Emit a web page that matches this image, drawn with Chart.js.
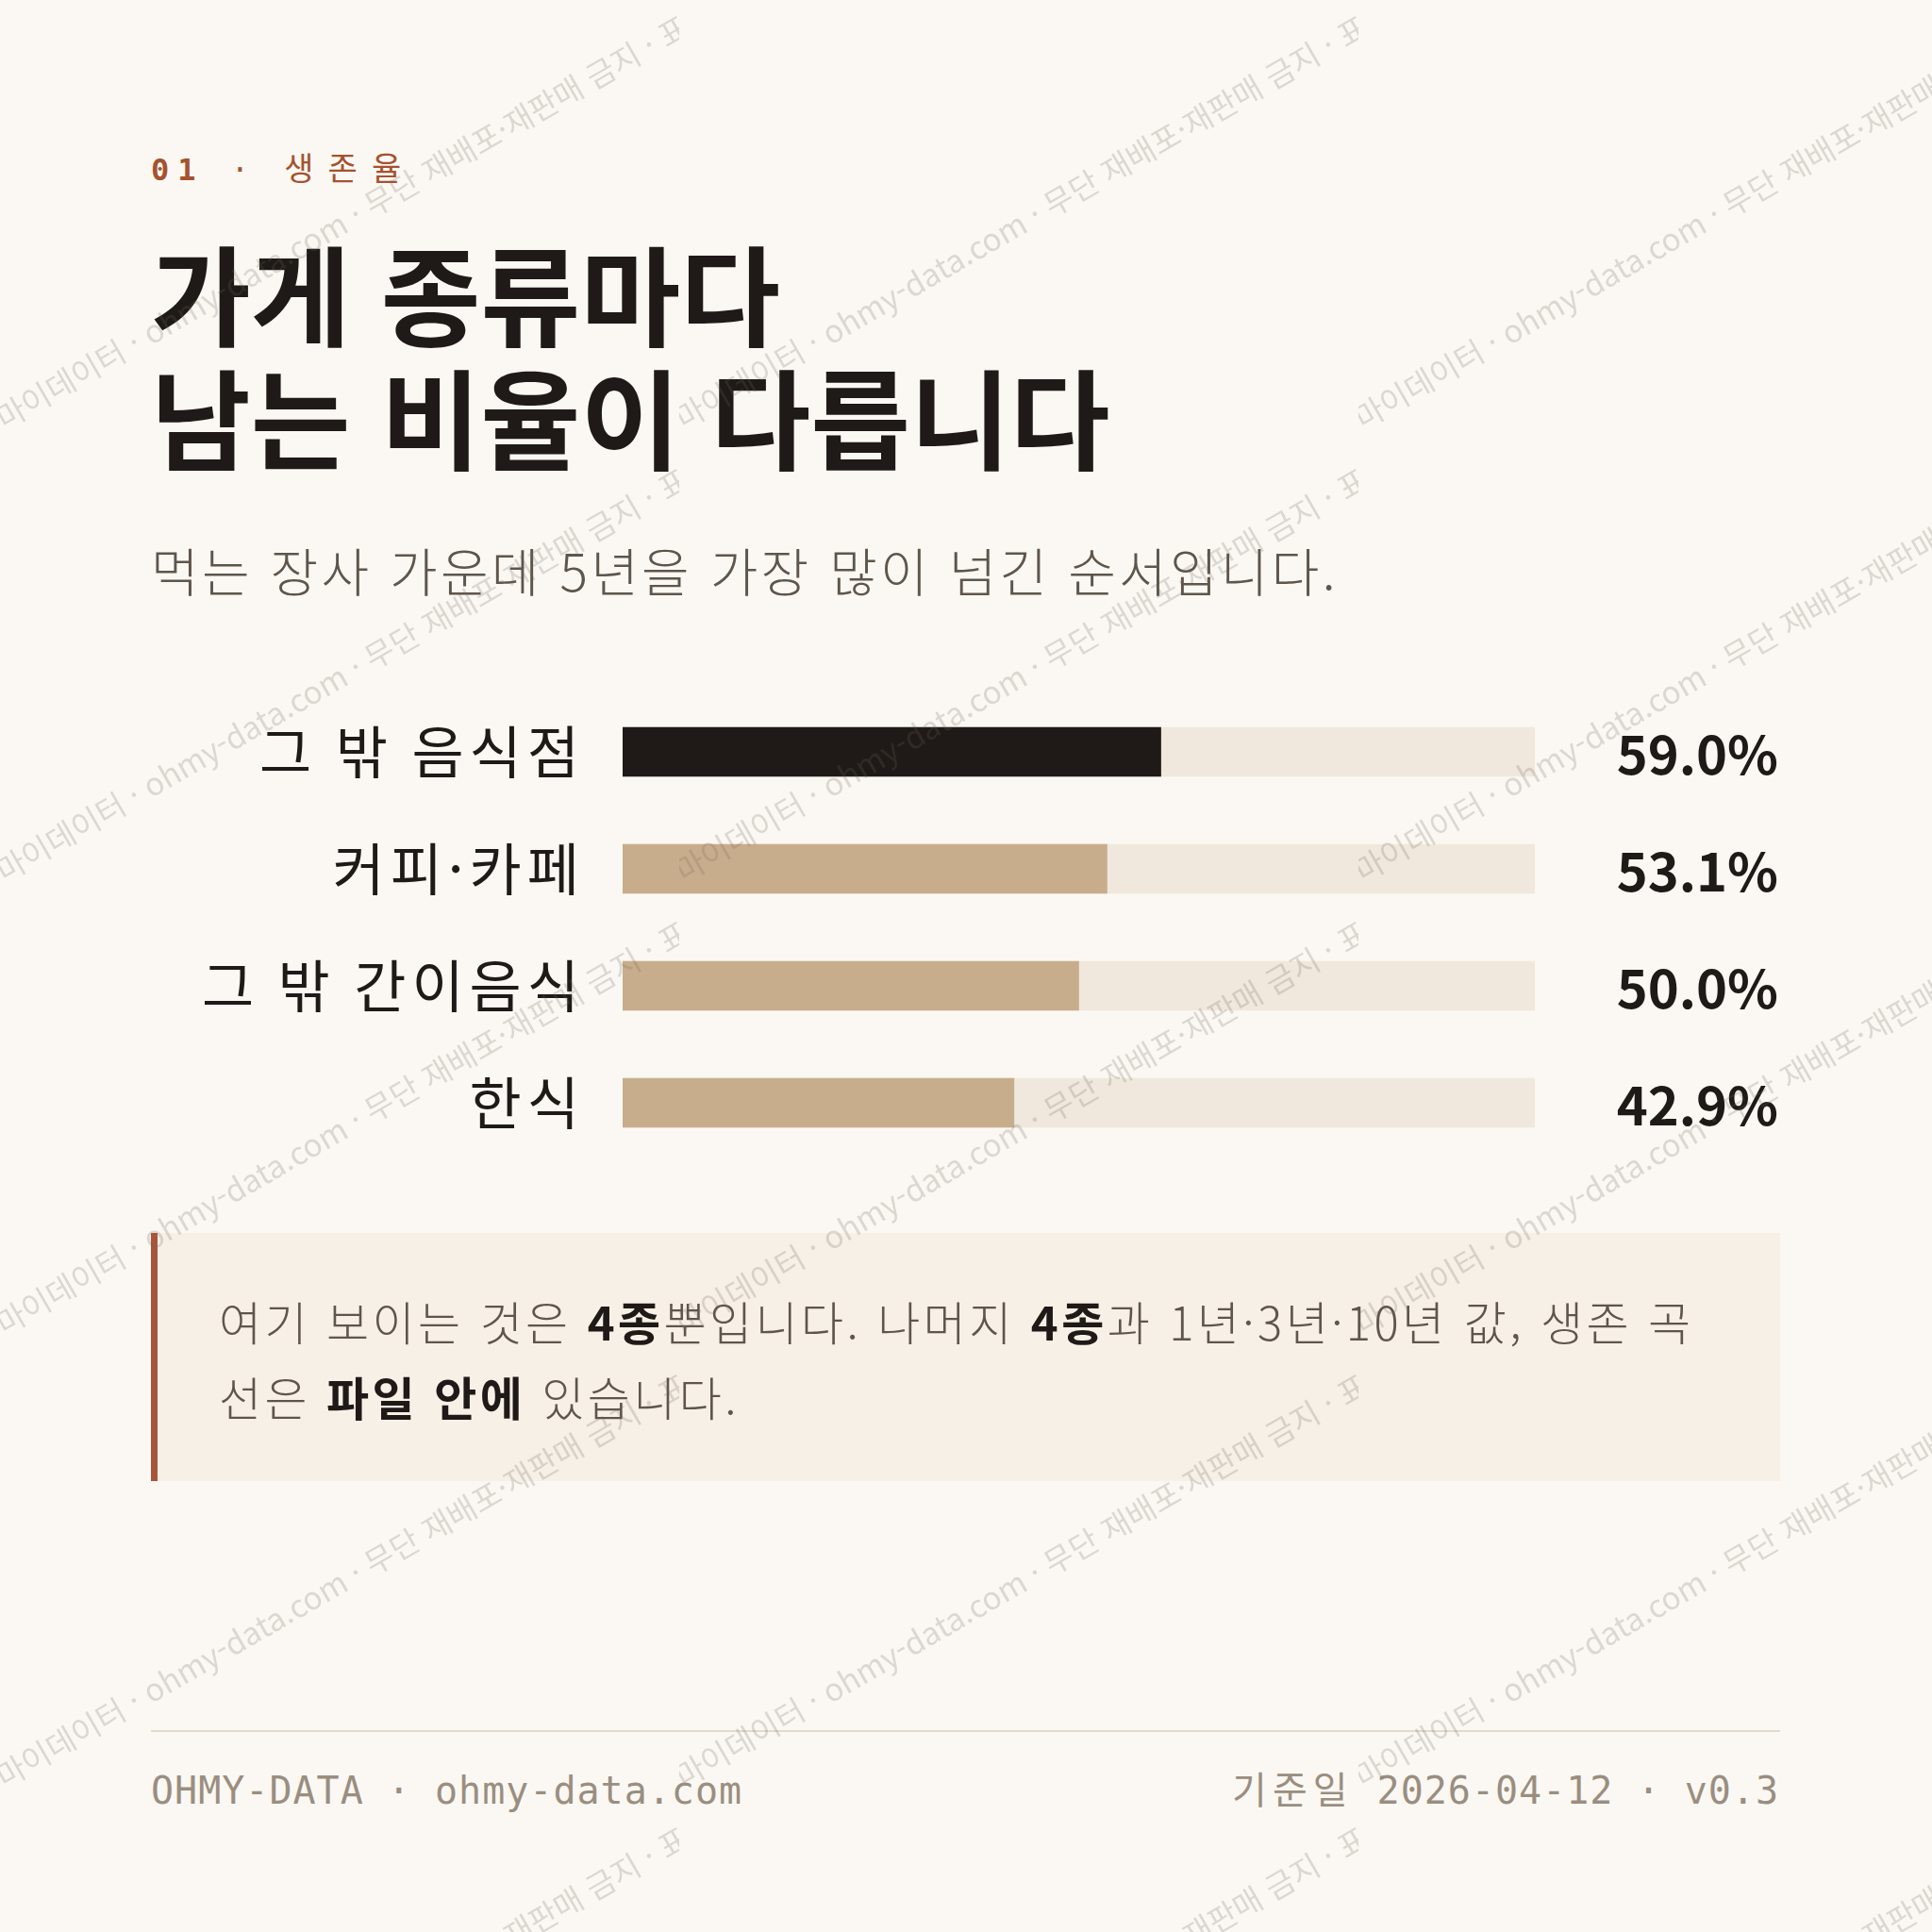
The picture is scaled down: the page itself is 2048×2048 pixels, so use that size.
<!DOCTYPE html>
<html lang="ko">
<head>
<meta charset="utf-8">
<title>생존율</title>
<script src="https://cdn.jsdelivr.net/npm/chart.js@4.4.1/dist/chart.umd.min.js"></script>
<style>
  html, body { margin: 0; padding: 0; }
  body {
    width: 2048px; height: 2048px; position: relative; overflow: hidden;
    background: #FBF8F3; color: #1F1A17;
    font-family: "Noto Sans CJK KR", "Noto Sans", sans-serif;
  }
  .kicker {
    position: absolute; left: 160px; top: 159px; line-height: 40px;
    font-family: "DejaVu Sans Mono", "Noto Sans CJK KR", monospace;
    font-size: 32px; letter-spacing: 9px; color: #A5522F; white-space: nowrap;
  }
  .kicker b { font-weight: 700; }
  .kicker .ko { letter-spacing: 15px; font-size: 34px; }
  h1 {
    position: absolute; left: 160px; top: 243px; margin: 0;
    font-size: 115px; line-height: 131px; font-weight: 700; letter-spacing: 0;
    white-space: nowrap;
  }
  .sub {
    position: absolute; left: 160px; top: 568px; line-height: 70px;
    font-size: 55px; font-weight: 300; letter-spacing: 3.3px; color: #5E554C; white-space: nowrap;
  }
  #wrap { position: absolute; left: 160px; top: 735px; width: 1727px; height: 496px; }
  .note {
    position: absolute; left: 160px; top: 1307px; width: 1727px; height: 263px;
    box-sizing: border-box; background: #F7F0E6; border-left: 7px solid #A9553A;
    padding: 53px 0 0 65px; font-size: 49px; line-height: 80px; font-weight: 300;
    letter-spacing: 3.4px; color: #5E554C; white-space: nowrap;
  }
  .note b { font-weight: 700; color: #1F1A17; }
  .rule { position: absolute; left: 160px; top: 1834px; width: 1727px; height: 2px; background: #E3DACD; }
  .foot {
    position: absolute; top: 1873px; line-height: 50px;
    font-family: "DejaVu Sans Mono", "Noto Sans CJK KR", monospace;
    font-size: 40px; letter-spacing: 1px; color: #9A8E80; white-space: nowrap;
  }
  .foot .ko { letter-spacing: 6px; }
  .foot.l { left: 160px; }
  .foot.r { right: 162px; }
  #wm { position: absolute; left: 0; top: 0; width: 2048px; height: 2048px; pointer-events: none; z-index: 10; }
  .tile { position: absolute; width: 720px; height: 480px; overflow: hidden; }
  .tile span {
    position: absolute; left: -2px; top: 428px; transform-origin: 0 50%;
    transform: rotate(-30deg); font-size: 33px; line-height: 33px; white-space: nowrap;
    color: rgba(110, 100, 90, 0.22);
  }
</style>
</head>
<body>
<div class="kicker"><b>01</b> · <span class="ko">생존율</span></div>
<h1>가게 종류마다<br>남는 비율이 다릅니다</h1>
<div class="sub">먹는 장사 가운데 5년을 가장 많이 넘긴 순서입니다.</div>

<div id="wrap"><canvas id="survival"></canvas></div>

<div class="note">여기 보이는 것은 <b>4종</b>뿐입니다. 나머지 <b>4종</b>과 1년·3년·10년 값, 생존 곡<br>선은 <b>파일 안에</b> 있습니다.</div>

<div class="rule"></div>
<div class="foot l">OHMY-DATA · ohmy-data.com</div>
<div class="foot r"><span class="ko">기준일</span> 2026-04-12 · v0.3</div>

<div id="wm"></div>

<script>
// 5-year survival rate by shop type (%)
const CATEGORIES = ['그 밖 음식점', '커피·카페', '그 밖 간이음식', '한식'];
const SURVIVAL_5Y = [59.0, 53.1, 50.0, 42.9];
const AXIS_MAX = 100;
const WATERMARK = '마이데이터 · ohmy-data.com · 무단 재배포·재판매 금지 · 표본';

const INK = '#1F1A17';
const TAN = '#C8AD8C';
const TRACK = '#F0E8DC';

// wider tracking for the category labels
const labelSpacing = {
  id: 'labelSpacing',
  beforeDraw(chart) { chart.ctx.letterSpacing = '6px'; }
};

// value labels at the far right of the canvas
const valueLabels = {
  id: 'valueLabels',
  afterDatasetsDraw(chart) {
    const { ctx } = chart;
    const meta = chart.getDatasetMeta(0);
    ctx.save();
    ctx.letterSpacing = '0px';
    ctx.font = '700 56px "Noto Sans CJK KR", "Noto Sans", sans-serif';
    ctx.fillStyle = INK;
    ctx.textAlign = 'right';
    ctx.textBaseline = 'middle';
    meta.data.forEach((bar, i) => {
      ctx.fillText(SURVIVAL_5Y[i].toFixed(1) + '%', chart.width - 2, bar.y + 3);
    });
    ctx.restore();
  }
};

new Chart(document.getElementById('survival'), {
  type: 'bar',
  data: {
    labels: CATEGORIES,
    datasets: [
      {
        data: SURVIVAL_5Y,
        backgroundColor: ctx => ctx.dataIndex === 0 ? INK : TAN,
        barThickness: 52, grouped: false, order: 0
      },
      {
        data: CATEGORIES.map(() => AXIS_MAX),
        backgroundColor: TRACK,
        barThickness: 52, grouped: false, order: 1
      }
    ]
  },
  options: {
    indexAxis: 'y',
    responsive: true,
    maintainAspectRatio: false,
    animation: false,
    layout: { padding: { right: 260 } },
    plugins: { legend: { display: false }, tooltip: { enabled: false } },
    scales: {
      x: { min: 0, max: AXIS_MAX, display: false },
      y: {
        grid: { display: false, drawTicks: false },
        border: { display: false },
        ticks: {
          color: INK, padding: 40,
          font: { family: '"Noto Sans CJK KR", "Noto Sans", sans-serif', size: 60, weight: '400' }
        },
        afterFit: scale => {
          scale.width = 500;
          scale.paddingTop = 0;
          scale.paddingBottom = 0;
        }
      }
    }
  },
  plugins: [labelSpacing, valueLabels]
});

// diagonal watermark tiles
const wm = document.getElementById('wm');
for (let ty = 0; ty < 2048; ty += 480) {
  for (let tx = 0; tx < 2048; tx += 720) {
    const tile = document.createElement('div');
    tile.className = 'tile';
    tile.style.left = tx + 'px';
    tile.style.top = ty + 'px';
    const span = document.createElement('span');
    span.textContent = WATERMARK;
    tile.appendChild(span);
    wm.appendChild(tile);
  }
}
</script>
</body>
</html>
